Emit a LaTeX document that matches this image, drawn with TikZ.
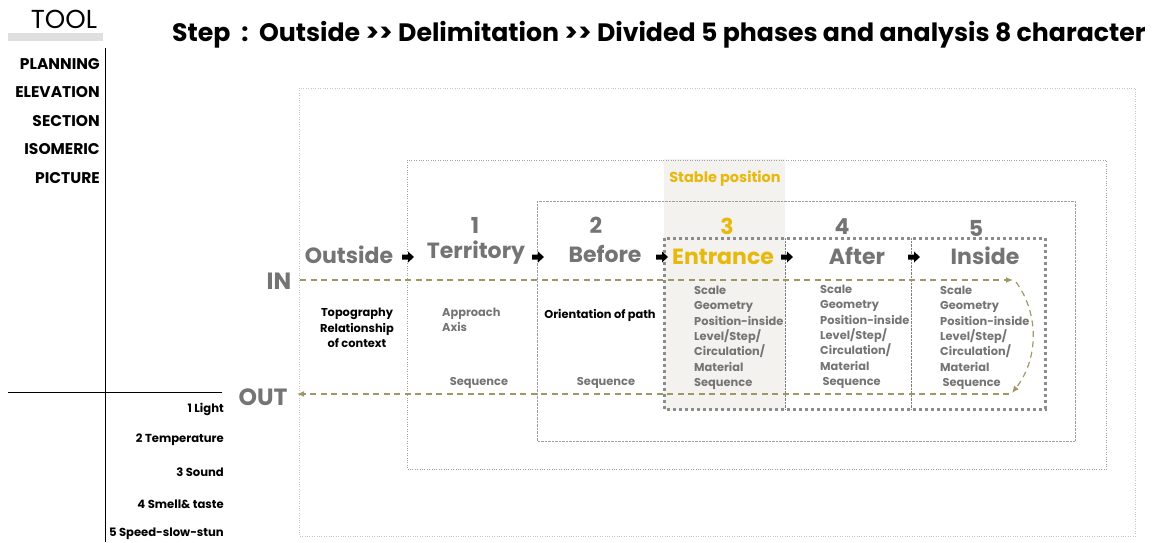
\documentclass[tikz,border=0pt]{standalone}
\usepackage{fontspec}
\setmainfont{Poppins}
\usepackage{tikz}
\usetikzlibrary{positioning}
\usetikzlibrary{arrows.meta}

\definecolor{txtgrey}{HTML}{747474}
\definecolor{gold}{HTML}{E8B80C}
\definecolor{stablebg}{HTML}{F3F2EE}
\definecolor{olive}{HTML}{9F9866}

\tikzset{
  phase/.style={font=\fontsize{22}{22}\selectfont\bfseries, text=txtgrey, inner sep=0},
  num/.style={font=\fontsize{22}{22}\selectfont\bfseries, text=txtgrey, inner sep=0},
  item/.style={font=\fontsize{11.4}{15.3}\selectfont\bfseries, text=txtgrey, align=left, inner sep=0, anchor=north west},
  tool/.style={font=\fontsize{15.5}{15.5}\selectfont\bfseries, anchor=east, inner sep=0},
  sense/.style={font=\fontsize{11.6}{11.6}\selectfont\bfseries, anchor=east, inner sep=0},
  inout/.style={font=\fontsize{23.5}{23.5}\selectfont\bfseries, text=txtgrey, inner sep=0},
  flow/.style={olive, line width=1.2pt, dash pattern=on 6pt off 4.5pt},
}

\begin{document}
\begin{tikzpicture}[x=1pt,y=-1pt]
  \useasboundingbox (0,0) rectangle (1155,542);

  % tool column
  \node[font=\fontsize{26}{26}\selectfont, inner sep=0] (tool) at (64,19) {TOOL};
  \fill[gray!25] (8,33) rectangle (103,41);
  \draw (105,48) -- (105,542);
  \draw (8,392) -- (222,392);

  \node[tool] (planning) at (100,64) {PLANNING};
  \node[tool] (elevation) at (100,92) {ELEVATION};
  \node[tool] (section) at (100,121) {SECTION};
  \node[tool] (isomeric) at (100,149) {ISOMERIC};
  \node[tool] (picture) at (100,178) {PICTURE};

  \node[sense] (light) at (224,409) {1 Light};
  \node[sense] (temp) at (224,440) {2 Temperature};
  \node[sense] (sound) at (224,472) {3 Sound};
  \node[sense] (smell) at (224,504) {4 Smell\& taste};
  \node[sense] (speed) at (224,534) {5 Speed-slow-stun};

  % title
  \node[font=\fontsize{25.2}{25.2}\selectfont\bfseries, inner sep=0, anchor=west] (title) at (172,35)
    {Step\ \ :\ \ Outside {>}{>} Delimitation {>}{>} Divided 5 phases and analysis 8 character};

  % frames
  \fill[stablebg] (664,159) rectangle (785,410);
  \draw[gray!45, dotted] (299,88) rectangle (1135,536);
  \draw[gray!75, dotted] (407,160) rectangle (1106,469);
  \draw[gray!75, densely dotted] (537,201) rectangle (1075,441);
  \draw[gray!90, line width=3pt, dash pattern=on 3pt off 3pt] (664,238) rectangle (1045,409);
  \draw[gray, densely dotted] (785,238) -- (785,409);
  \draw[gray, densely dotted] (911,238) -- (911,409);

  \node[font=\fontsize{14.5}{14.5}\selectfont\bfseries, text=gold, inner sep=0] (stable) at (725,179) {Stable position};

  % phases
  \node[phase] (outside) at (349,255) {Outside};
  \node[phase] (territory) at (476,253) {Territory};
  \node[phase] (before) at (605,254) {Before};
  \node[phase, text=gold] (entrance) at (723,257) {Entrance};
  \node[phase] (after) at (857,256) {After};
  \node[phase] (inside) at (985,256) {Inside};

  \node[num] (n1) at (475,225) {1};
  \node[num] (n2) at (596,225) {2};
  \node[num, text=gold] (n3) at (727,226) {3};
  \node[num] (n4) at (842,227) {4};
  \node[num] (n5) at (976,228) {5};

  % fat arrows
  \foreach \x in {402,532,656,781,908}
    \fill (\x,254.5) -- ++(6,0) -- ++(0,-3) -- ++(6,5.5) -- ++(-6,5.5) -- ++(0,-3) -- ++(-6,0) -- cycle;

  % in / out
  \node[inout] (in) at (279,281) {IN};
  \node[inout] (out) at (263,397) {OUT};

  \coordinate (in-a) at (300,280);
  \coordinate (in-b) at (1013,280);
  \coordinate (turn-a) at (1016,282);
  \coordinate (turn-b) at (1012,393);
  \coordinate (out-a) at (1009,394);
  \coordinate (out-b) at (297,394);
  \draw[flow, -{Latex[length=7pt,width=6pt]}] (in-a) -- (in-b);
  \draw[flow, -{Latex[length=7pt,width=6pt]}] (turn-a) .. controls (1040,315) and (1038,360) .. (turn-b);
  \draw[flow, -{Latex[length=7pt,width=6pt]}] (out-a) -- (out-b);

  % contents
  \node[item, text=black, align=center, anchor=center] (context) at (357,328)
    {Topography\\Relationship\\of context};
  \node[item] (approach) at (442,308) {Approach\\Axis};
  \node[item, text=black, anchor=center] (path) at (600,315) {Orientation of path};
  \node[item, anchor=center] (seq1) at (479,383) {Sequence};
  \node[item, anchor=center] (seq2) at (606,383) {Sequence};

  \node[item] (c3) at (694,286)
    {Scale\\Geometry\\Position-inside\\Level/Step/\\Circulation/\\Material\\Sequence};
  \node[item] (c4) at (820,285)
    {Scale\\Geometry\\Position-inside\\Level/Step/\\Circulation/\\Material\\\ Sequence};
  \node[item] (c5) at (940,286)
    {Scale\\Geometry\\Position-inside\\Level/Step/\\Circulation/\\Material\\\ Sequence};
\end{tikzpicture}
\end{document}
